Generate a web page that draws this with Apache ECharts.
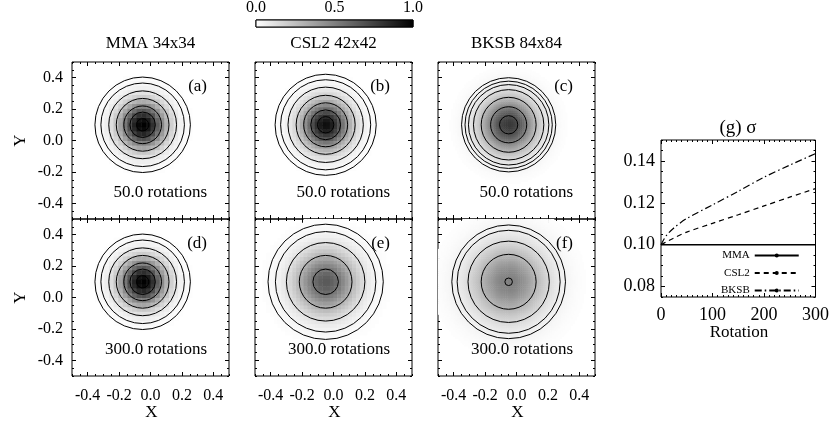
<!DOCTYPE html>
<html>
<head>
<meta charset="utf-8">
<script src="https://cdn.jsdelivr.net/npm/echarts@6/dist/echarts.min.js"></script>
<style>
html, body { margin: 0; padding: 0; background: #fff; }
#main { width: 832px; height: 428px; }
</style>
</head>
<body>
<div id="main"></div>
<script>
// 面板 (a)-(f)
var codeNames = ['MMA 34x34', 'CSL2 42x42', 'BKSB 84x84'];
var cellCounts = [34, 42, 84];            // 网格分辨率
var panelTags = ['(a)', '(b)', '(c)', '(d)', '(e)', '(f)'];
var panelNotes = ['50.0 rotations', '50.0 rotations', '50.0 rotations',
                  '300.0 rotations', '300.0 rotations', '300.0 rotations'];
var blobCenter = [-0.05, 0.1];
var blobPeak = [1.0, 0.95, 0.78, 1.0, 0.65, 0.5];      // 中心灰度（从图中估计）
var blobWidth = [0.1, 0.105, 0.12, 0.1, 0.135, 0.165];  // 灰度分布宽度
var contourRadii = [
    [0.304, 0.266, 0.216, 0.168, 0.12, 0.081, 0.039],
    [0.322, 0.287, 0.24, 0.188, 0.14, 0.095, 0.052],
    [0.30, 0.278, 0.256, 0.224, 0.175, 0.115, 0.058],
    [0.304, 0.266, 0.216, 0.168, 0.12, 0.081, 0.039],
    [0.367, 0.32, 0.25, 0.168, 0.081],
    [0.362, 0.328, 0.259, 0.175, 0.024]
];
var xyTicks = [-0.4, -0.2, 0.0, 0.2, 0.4];
var cbTicks = [0, 0.5, 1];
var cbRange = [0, 1];

// 面板 (g)
var rotations = [0, 10, 25, 50, 100, 150, 200, 250, 300];
var sigmaMMA  = [0.1, 0.1, 0.1, 0.1, 0.1, 0.1, 0.1, 0.1, 0.1];
var sigmaCSL2 = [0.1, 0.1013, 0.1032, 0.106, 0.1102, 0.1143, 0.1185, 0.1227, 0.1268];
var sigmaBKSB = [0.1, 0.1042, 0.108, 0.1125, 0.119, 0.1255, 0.1322, 0.138, 0.1435];
var sigmaTicks = [0.08, 0.10, 0.12, 0.14];
var rotTicks = [0, 100, 200, 300];

var FONT = 'Liberation Serif';
var colLeft = [72, 255, 438];
var rowTop = [62, 219];
var SIZE = 157;

function fmt1(v) { return v.toFixed(1); }
function fmt2(v) { return v.toFixed(2); }
function fmt0(v) { return String(Math.round(v)); }

// 一个方向上的四根轴：主刻度/次刻度 × 两侧，刻度朝内
function addAxes(list, dim, gridIndex, min, max, majors, minorStep, showLabel, labelFmt, fontSize, margin) {
    var sides = dim === 'x' ? ['bottom', 'top'] : ['left', 'right'];
    var first = list.length;
    for (var s = 0; s < 2; s++) {
        list.push({
            gridIndex: gridIndex, type: 'value', min: min, max: max, position: sides[s],
            axisLine: {show: false, onZero: false}, splitLine: {show: false},
            axisTick: {inside: true, length: 4, customValues: majors, lineStyle: {color: '#000'}},
            axisLabel: {show: showLabel && s === 0, customValues: majors, formatter: labelFmt,
                color: '#000', fontFamily: FONT, fontSize: fontSize, margin: margin}
        });
        list.push({
            gridIndex: gridIndex, type: 'value', min: min, max: max, interval: minorStep, position: sides[s],
            axisLine: {show: false, onZero: false}, splitLine: {show: false},
            axisTick: {inside: true, length: 2, lineStyle: {color: '#000'}},
            axisLabel: {show: false}
        });
    }
    return first;
}

function cellsFor(k) {
    var n = cellCounts[k % 3];
    var out = [];
    for (var i = 0; i < n; i++) {
        for (var j = 0; j < n; j++) {
            var x = -0.5 + (i + 0.5) / n;
            var y = -0.5 + (j + 0.5) / n;
            var dx = x - blobCenter[0], dy = y - blobCenter[1];
            var w = blobWidth[k];
            var v = blobPeak[k] * Math.exp(-(dx * dx + dy * dy) / (2 * w * w));
            if (v > 0.006) out.push([x, y, v, 1 / n]);
        }
    }
    return out;
}

function heatItem(params, api) {
    var x = api.value(0), y = api.value(1), v = api.value(2), d = api.value(3) / 2;
    var p0 = api.coord([x - d, y + d]);
    var p1 = api.coord([x + d, y - d]);
    var g = Math.round(255 * (1 - Math.min(1, v)));
    return {
        type: 'rect',
        shape: {x: p0[0], y: p0[1], width: p1[0] - p0[0] + 0.5, height: p1[1] - p0[1] + 0.5},
        style: {fill: 'rgb(' + g + ',' + g + ',' + g + ')'}
    };
}

function circleItem(params, api) {
    var c = api.coord([api.value(0), api.value(1)]);
    var r = api.size([api.value(2), 0])[0];
    return {
        type: 'circle',
        shape: {cx: c[0], cy: c[1], r: r},
        style: {fill: 'none', stroke: '#000', lineWidth: 1}
    };
}

function textEl(x, y, text, size, align, rot) {
    var el = {type: 'text', x: x, y: y, z: 10,
        style: {text: text, font: size + 'px "' + FONT + '"', fill: '#000', align: align, verticalAlign: 'middle'}};
    if (rot) el.rotation = rot;
    return el;
}

function buildOption() {
    var grids = [], xAxes = [], yAxes = [], series = [], graphics = [];

    for (var k = 0; k < 6; k++) {
        var col = k % 3, row = Math.floor(k / 3);
        var panelLeft = colLeft[col], panelTop = rowTop[row];
        grids.push({left: panelLeft, top: panelTop, width: SIZE, height: SIZE, show: true,
            borderColor: '#000', borderWidth: 1, backgroundColor: 'transparent'});
        var xi = addAxes(xAxes, 'x', k, -0.5, 0.5, xyTicks, 0.05, row === 1, fmt1, 16, 12);
        var yi = addAxes(yAxes, 'y', k, -0.5, 0.5, xyTicks, 0.05, col === 0, fmt1, 16, 9);
        // 分块放入多个系列，避免渐进渲染
        var cells = cellsFor(k);
        for (var c0 = 0; c0 < cells.length; c0 += 1200) {
            series.push({type: 'custom', xAxisIndex: xi, yAxisIndex: yi, renderItem: heatItem,
                data: cells.slice(c0, c0 + 1200), silent: true, clip: true});
        }
        series.push({type: 'custom', xAxisIndex: xi, yAxisIndex: yi, renderItem: circleItem,
            data: contourRadii[k].map(function (r) { return [blobCenter[0], blobCenter[1], r]; }),
            silent: true, z: 3});
        graphics.push(textEl(panelLeft + 135, panelTop + 25, panelTags[k], 17, 'right'));
        graphics.push(textEl(panelLeft + 135, panelTop + 131, panelNotes[k], 17, 'right'));
        if (row === 0) graphics.push(textEl(panelLeft + SIZE / 2, 44, codeNames[col], 17, 'center'));
        else graphics.push(textEl(panelLeft + SIZE / 2 + 1, 413, 'X', 17, 'center'));
        if (col === 0) graphics.push(textEl(21, panelTop + SIZE / 2, 'Y', 17, 'center', Math.PI / 2));
    }

    // 面板 (g)
    var gIdx = grids.length;
    grids.push({left: 661, top: 140, width: 156, height: 157, show: true,
        borderColor: '#000', borderWidth: 1, backgroundColor: 'transparent'});
    var gx = addAxes(xAxes, 'x', gIdx, 0, 300, rotTicks, 10, true, fmt0, 18, 9);
    var gy = addAxes(yAxes, 'y', gIdx, 0.075, 0.15, sigmaTicks, 0.005, true, fmt2, 18, 6);
    var lineDefs = [
        {name: 'MMA', data: sigmaMMA, type: 'solid', width: 1.5},
        {name: 'CSL2', data: sigmaCSL2, type: [5, 4], width: 1.2},
        {name: 'BKSB', data: sigmaBKSB, type: [7, 3, 1.5, 3], width: 1.2}
    ];
    lineDefs.forEach(function (d) {
        series.push({
            name: d.name, type: 'line', xAxisIndex: gx, yAxisIndex: gy,
            data: rotations.map(function (r, i) { return [r, d.data[i]]; }),
            symbol: 'none', smooth: 0.3, z: 4,
            itemStyle: {color: '#000'},
            lineStyle: {color: '#000', width: d.width, type: d.type}
        });
    });
    graphics.push(textEl(738, 128, '(g) \u03c3', 19, 'center'));
    graphics.push(textEl(739, 333, 'Rotation', 17, 'center'));

    // 色标
    var cbIdx = grids.length;
    grids.push({left: 256, top: 19, width: 157, height: 8, show: true,
        borderColor: '#000', borderWidth: 1, backgroundColor: 'transparent'});
    var cbx = xAxes.length;
    xAxes.push({gridIndex: cbIdx, type: 'value', min: cbRange[0], max: cbRange[1], position: 'top',
        axisLine: {show: false, onZero: false}, splitLine: {show: false}, axisTick: {show: false},
        axisLabel: {customValues: cbTicks, formatter: fmt1, color: '#000', fontFamily: FONT, fontSize: 16, margin: 4}});
    var cby = yAxes.length;
    yAxes.push({gridIndex: cbIdx, type: 'value', min: 0, max: 1,
        axisLine: {show: false, onZero: false}, splitLine: {show: false}, axisTick: {show: false}, axisLabel: {show: false}});
    series.push({
        type: 'custom', xAxisIndex: cbx, yAxisIndex: cby, silent: true,
        data: [[cbRange[0], cbRange[1]]],
        renderItem: function (params, api) {
            var p0 = api.coord([api.value(0), 1]);
            var p1 = api.coord([api.value(1), 0]);
            return {
                type: 'rect',
                shape: {x: p0[0], y: p0[1], width: p1[0] - p0[0], height: p1[1] - p0[1]},
                style: {
                    fill: {type: 'linear', x: 0, y: 0, x2: 1, y2: 0, colorStops: [
                        {offset: 0, color: '#ffffff'}, {offset: 1, color: '#000000'}]},
                    stroke: '#000', lineWidth: 1
                }
            };
        }
    });

    return {
        animation: false,
        backgroundColor: '#fff',
        grid: grids,
        xAxis: xAxes,
        yAxis: yAxes,
        legend: {
            data: ['MMA', 'CSL2', 'BKSB'], orient: 'vertical', align: 'right',
            left: 721, top: 250, padding: 0, itemGap: 6.5, itemWidth: 44, itemHeight: 5,
            textStyle: {fontFamily: FONT, fontSize: 11, color: '#000'}
        },
        graphic: graphics,
        series: series
    };
}

var myChart = echarts.init(document.getElementById('main'));
myChart.setOption(buildOption());
</script>
</body>
</html>
